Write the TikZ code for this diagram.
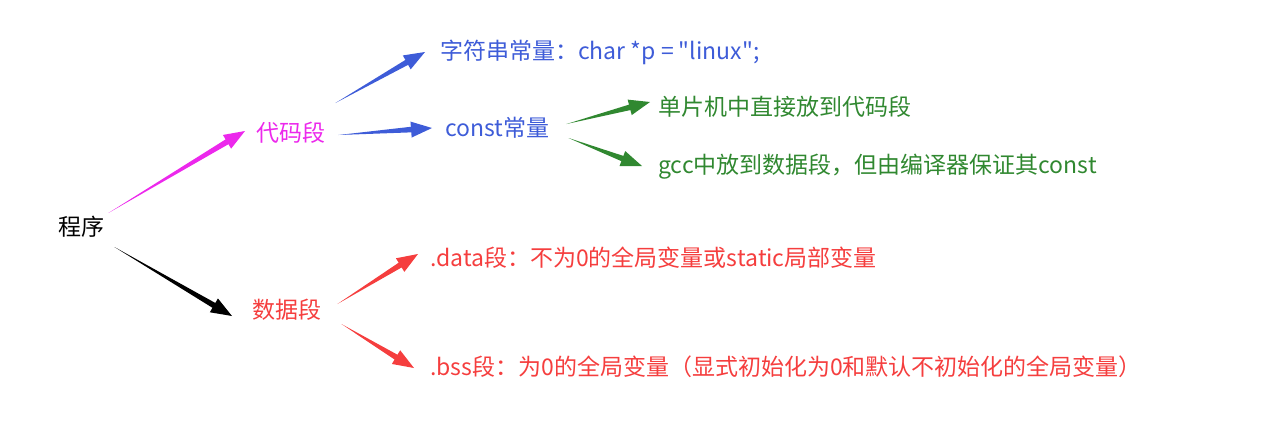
\documentclass[tikz,border=0pt]{standalone}
\usepackage{fontspec}
\newfontfamily\cjk{Noto Sans CJK SC}
\usetikzlibrary{calc}

\definecolor{codepink}{RGB}{236,40,236}
\definecolor{constblue}{RGB}{62,92,216}
\definecolor{leafgreen}{RGB}{48,136,48}
\definecolor{datared}{RGB}{245,62,62}

% tapered arrow: colour, tail, tip
\newcommand\taperarrow[3]{%
  \path (#2) coordinate (tail) (#3) coordinate (tip);
  \path ($(tip)!21pt!(tail)$) coordinate (neck);
  \fill[#1] (tail) -- ($(neck)!2.8pt!90:(tip)$) -- ($(neck)!8pt!90:(tip)$) -- (tip)
    -- ($(neck)!8pt!-90:(tip)$) -- ($(neck)!2.8pt!-90:(tip)$) -- cycle;}

\begin{document}
\begin{tikzpicture}[x=1pt, y=-1pt,
    every node/.style={inner sep=0pt, anchor=west, font=\cjk\fontsize{23}{27}\selectfont}]
  \useasboundingbox (0,0) rectangle (1269,437);

  % Texte
  \node (prog) at (58,227) {程序};
  \node[text=codepink] (code) at (256,133) {代码段};
  \node[text=datared] (data) at (252,310) {数据段};

  \node[text=constblue] (str) at (440,52) {字符串常量：char *p = "linux";};
  \node[text=constblue] (const) at (445,128) {const常量};

  \node[text=leafgreen] (mcu) at (658,107) {单片机中直接放到代码段};
  \node[text=leafgreen] (gcc) at (658,167) {gcc中放到数据段，但由编译器保证其const};

  \node[text=datared] (dseg) at (430,258) {.data段：不为0的全局变量或static局部变量};
  \node[text=datared] (bss) at (430,367) {.bss段：为0的全局变量（显式初始化为0和默认不初始化的全局变量）};

  % Pfeile
  \taperarrow{codepink}{$(prog.east)+(4,-14)$}{$(code.west)+(-11,-2)$}
  \taperarrow{black}{$(prog.east)+(10,20)$}{$(data.west)+(-20,6)$}

  \taperarrow{constblue}{$(code.east)+(10,-30)$}{$(str.west)+(-15,0)$}
  \taperarrow{constblue}{$(code.east)+(13,2)$}{$(const.west)+(-13,0)$}

  \taperarrow{leafgreen}{$(const.east)+(17,-4)$}{$(mcu.west)+(-8,-5)$}
  \taperarrow{leafgreen}{$(const.east)+(19,10)$}{$(gcc.west)+(-16,-1)$}

  \taperarrow{datared}{$(data.east)+(16,-6)$}{$(dseg.west)+(-12,-4)$}
  \taperarrow{datared}{$(data.east)+(20,14)$}{$(bss.west)+(-16,1)$}
\end{tikzpicture}
\end{document}
